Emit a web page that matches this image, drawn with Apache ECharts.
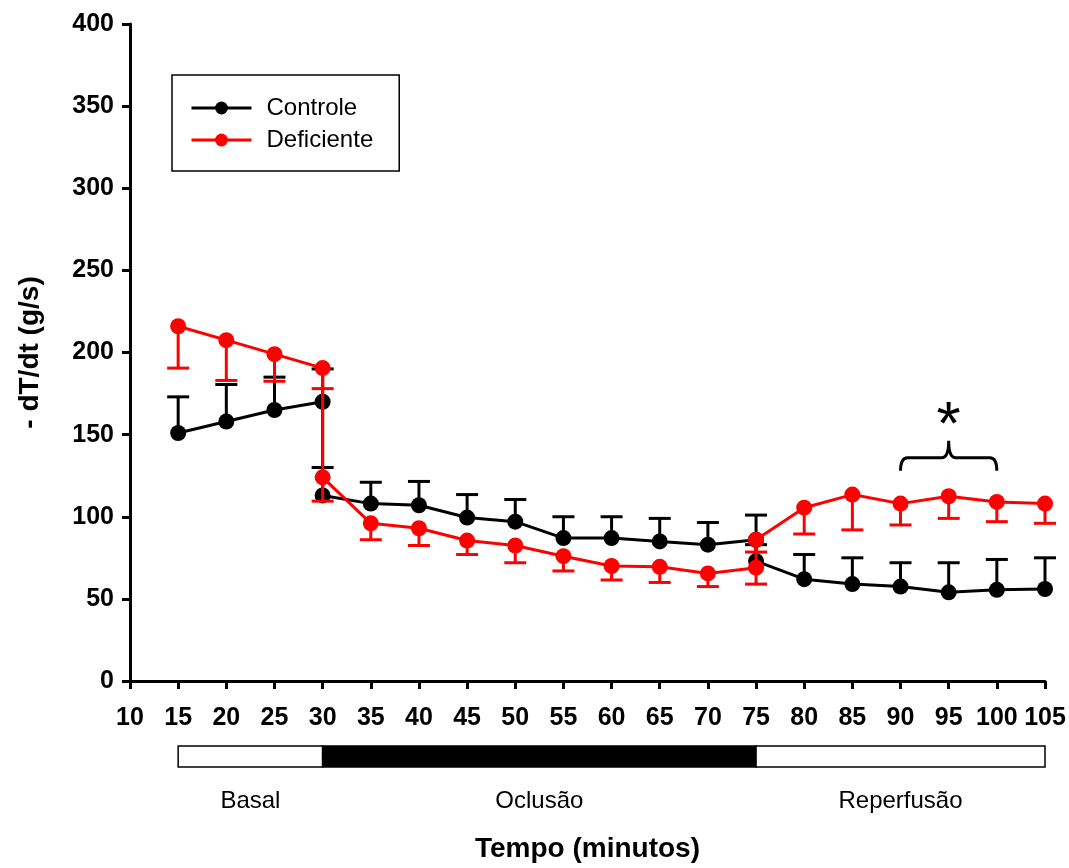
<!DOCTYPE html>
<html>
<head>
<meta charset="utf-8">
<script src="https://cdn.jsdelivr.net/npm/echarts@6/dist/echarts.min.js"></script>
<style>html,body{margin:0;padding:0;background:#fff;}#c{width:1069px;height:868px;}</style>
</head>
<body>
<div id="c"></div>
<script>
// ---- data ----
const times = [15,20,25,30,30,35,40,45,50,55,60,65,70,75,75,80,85,90,95,100,105];
const controleMean  = [151,158,165,170,113,108,107,99.5,97,87,87,85,83,86,73,62,59,57.5,54,55.5,56];
const controleUpper = [173,180.5,185,190,130,121,121.5,113.5,110.5,100,100,99,96.5,101,83,77,75,72,72,74,75];
const deficienteMean  = [216,207.5,199,190.5,124,96,93,85.5,82.5,76,70,69.5,65.5,69,86,105.5,113.5,108,112.5,109,108];
const deficienteLower = [190.5,183,182.5,178,109.5,86,82.5,77,72,67,61.5,60,57.5,59,78.5,89.5,92,95,99,97,96];
const seriesNames = ['Controle','Deficiente'];
const phaseNames  = ['Basal','Oclusão','Reperfusão'];
const phaseStart  = [15,30,75];
const phaseEnd    = [30,75,105];
const phaseFilled = [false,true,false];
const braceFrom = 90, braceTo = 100, braceValue = 128;
const starX = 95, starValue = 162;
const yTicks = {min:0,max:400,interval:50};
const xTicks = {min:10,max:105,interval:5};

const FONT = 'Liberation Sans, Arial, Helvetica, sans-serif';

function pairs(xs, ys){ return xs.map((x,i)=>[x, ys[i]]); }
function errData(xs, a, b){ return xs.map((x,i)=>[x, a[i], b[i]]); }

function errRender(color){
  return function(params, api){
    const x = api.value(0);
    const p0 = api.coord([x, api.value(1)]);
    const p1 = api.coord([x, api.value(2)]);
    const hw = 11;
    return {type:'group', children:[
      {type:'line', shape:{x1:p0[0],y1:p0[1],x2:p1[0],y2:p1[1]}, style:{stroke:color,lineWidth:3}},
      {type:'line', shape:{x1:p1[0]-hw,y1:p1[1],x2:p1[0]+hw,y2:p1[1]}, style:{stroke:color,lineWidth:3}}
    ]};
  };
}

const chart = echarts.init(document.getElementById('c'), null, {renderer:'canvas'});
chart.setOption({
  animation:false,
  backgroundColor:'#fff',
  grid:[
    {left:130, right:24, top:24, bottom:186},
    {left:130, right:24, top:746, height:21}
  ],
  legend:{
    data:seriesNames,
    orient:'vertical',
    left:172, top:75,
    padding:[20,26,18,18],
    itemGap:6,
    itemWidth:60, itemHeight:16,
    lineStyle:{width:3},
    borderColor:'#000', borderWidth:1.5,
    textStyle:{fontFamily:FONT, fontSize:24, color:'#000', lineHeight:26, padding:[0,0,0,10]}
  },
  xAxis:[
    {type:'value', gridIndex:0, min:xTicks.min, max:xTicks.max, interval:xTicks.interval,
     name:'Tempo (minutos)', nameLocation:'middle', nameGap:154,
     nameTextStyle:{fontFamily:FONT, fontSize:28, fontWeight:'bold', color:'#000'},
     axisLine:{lineStyle:{color:'#000', width:3}},
     axisTick:{length:8, lineStyle:{color:'#000', width:3}},
     axisLabel:{fontFamily:FONT, fontSize:25, fontWeight:'bold', color:'#000', margin:25},
     splitLine:{show:false}},
    {type:'value', gridIndex:1, min:xTicks.min, max:xTicks.max, show:false}
  ],
  yAxis:[
    {type:'value', gridIndex:0, min:yTicks.min, max:yTicks.max, interval:yTicks.interval,
     name:'- dT/dt (g/s)', nameLocation:'middle', nameGap:86,
     nameTextStyle:{fontFamily:FONT, fontSize:28, fontWeight:'bold', color:'#000'},
     axisLine:{show:true, lineStyle:{color:'#000', width:3}},
     axisTick:{show:true, length:8, lineStyle:{color:'#000', width:3}},
     axisLabel:{fontFamily:FONT, fontSize:25, fontWeight:'bold', color:'#000', margin:16},
     splitLine:{show:false}},
    {type:'value', gridIndex:1, min:0, max:1, show:false}
  ],
  series:[
    {type:'custom', name:'Controle SEM', z:1, xAxisIndex:0, yAxisIndex:0,
     data:errData(times, controleMean, controleUpper), renderItem:errRender('#000'), encode:{x:0,y:[1,2]}},
    {type:'line', name:'Controle', z:2, data:pairs(times, controleMean),
     symbol:'circle', symbolSize:16, color:'#000',
     lineStyle:{color:'#000', width:3}, itemStyle:{color:'#000'}},
    {type:'custom', name:'Deficiente SEM', z:3, xAxisIndex:0, yAxisIndex:0,
     data:errData(times, deficienteMean, deficienteLower), renderItem:errRender('#ff0000'), encode:{x:0,y:[1,2]}},
    {type:'line', name:'Deficiente', z:4, data:pairs(times, deficienteMean),
     symbol:'circle', symbolSize:16, color:'#ff0000',
     lineStyle:{color:'#ff0000', width:3}, itemStyle:{color:'#ff0000'}},
    {type:'custom', name:'sig', z:5, clip:false, xAxisIndex:0, yAxisIndex:0,
     data:[[braceFrom, braceTo, braceValue, starX, starValue]],
     renderItem:function(params, api){
       const a = api.coord([api.value(0), api.value(2)]);
       const b = api.coord([api.value(1), api.value(2)]);
       const m = (a[0]+b[0])/2;
       const y0 = a[1], y1 = a[1]-13, y2 = a[1]-30;
       const r = 7;
       const path = 'M'+a[0]+' '+y0+' Q'+a[0]+' '+y1+' '+(a[0]+r)+' '+y1+
         ' L'+(m-r)+' '+y1+' Q'+m+' '+y1+' '+m+' '+y2+
         ' Q'+m+' '+y1+' '+(m+r)+' '+y1+' L'+(b[0]-r)+' '+y1+
         ' Q'+b[0]+' '+y1+' '+b[0]+' '+y0;
       const s = api.coord([api.value(3), api.value(4)]);
       return {type:'group', children:[
         {type:'path', shape:{pathData:path}, style:{stroke:'#000', lineWidth:3, fill:null}},
         {type:'text', x:s[0], y:s[1]+12, style:{text:'*', fontFamily:FONT, fontSize:62, fill:'#000', align:'center', verticalAlign:'middle'}}
       ]};
     }},
    {type:'custom', name:'phases', clip:false, xAxisIndex:1, yAxisIndex:1,
     data:phaseNames.map((n,i)=>[phaseStart[i], phaseEnd[i], phaseFilled[i]?1:0]),
     renderItem:function(params, api){
       const p0 = api.coord([api.value(0), 1]);
       const p1 = api.coord([api.value(1), 0]);
       const filled = api.value(2) === 1;
       return {type:'group', children:[
         {type:'rect', shape:{x:p0[0], y:p0[1], width:p1[0]-p0[0], height:p1[1]-p0[1]},
          style:{fill: filled?'#000':'#fff', stroke:'#000', lineWidth:1.5}},
         {type:'text', x:(p0[0]+p1[0])/2, y:p1[1]+34,
          style:{text:phaseNames[params.dataIndex], fontFamily:FONT, fontSize:24, fill:'#000', align:'center', verticalAlign:'middle'}}
       ]};
     }}
  ]
});
</script>
</body>
</html>
